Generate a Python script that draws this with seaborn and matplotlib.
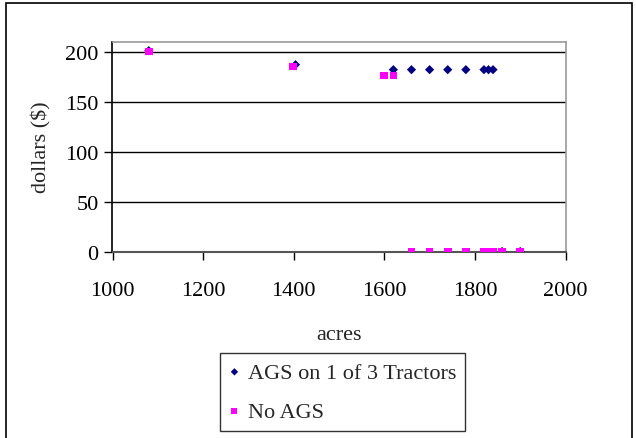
import matplotlib
matplotlib.use("Agg")
import matplotlib.pyplot as plt
import seaborn as sns
import pandas as pd
from matplotlib.patches import Rectangle

ags_acres = [1080, 1404, 1620, 1660, 1700, 1740, 1780, 1820, 1830, 1840, 1860, 1900]
ags_dollars = [201, 187, 182, 182, 182, 182, 182, 182, 182, 182, 0, 0]
noags_acres = [1080, 1398, 1600, 1620, 1660, 1700, 1740, 1780, 1820, 1830, 1840, 1860, 1900]
noags_dollars = [200, 185, 176, 176, 0, 0, 0, 0, 0, 0, 0, 0, 0]
series_names = ["AGS on 1 of 3 Tractors", "No AGS"]
x_ticks = [1000, 1200, 1400, 1600, 1800, 2000]
y_ticks = [0, 50, 100, 150, 200]

sns.set_style("white")
plt.rcParams['font.family'] = ['Liberation Serif', 'DejaVu Serif']

df = pd.concat([
    pd.DataFrame({"acres": ags_acres, "dollars": ags_dollars, "series": series_names[0]}),
    pd.DataFrame({"acres": noags_acres, "dollars": noags_dollars, "series": series_names[1]}),
])

fig = plt.figure(figsize=(6.36, 4.39), dpi=100)
ax = fig.add_axes([112.5 / 636, 186.5 / 439, 453 / 636, 209.8 / 439])

for y in y_ticks[1:]:
    ax.axhline(y, color="black", lw=1.0, zorder=1)

sns.scatterplot(data=df[df.series == series_names[0]], x="acres", y="dollars",
                color="#000080", marker="D", s=22, edgecolor="none", ax=ax,
                label=series_names[0], zorder=3)
sns.scatterplot(data=df[df.series == series_names[1]], x="acres", y="dollars",
                color="#FF00FF", marker="s", s=30, edgecolor="none", ax=ax,
                label=series_names[1], zorder=4)

ax.set_xlim(1000, 2000)
ax.set_ylim(0, 210)
ax.set_xticks(x_ticks)
ax.set_yticks(y_ticks)
ax.tick_params(axis="both", labelsize=16, direction="out", length=6, width=1,
               colors="black", bottom=True, left=True)
ax.tick_params(axis="x", pad=15)
ax.tick_params(axis="y", pad=4)
ax.set_xlabel("acres", fontsize=16, labelpad=18)
ax.set_ylabel("dollars ($)", fontsize=16, labelpad=10)

ax.spines["left"].set_color("black")
ax.spines["bottom"].set_color("#555555")
ax.spines["top"].set_color("#9a9a9a")
ax.spines["right"].set_color("#9a9a9a")
for sp in ax.spines.values():
    sp.set_linewidth(1.2)
ax.spines["bottom"].set_linewidth(1.5)

ax.get_legend().remove()
handles, labels = ax.get_legend_handles_labels()
leg = fig.legend(handles, labels, loc="lower left", bbox_to_anchor=(220 / 636, 7 / 439),
                 borderaxespad=0, fontsize=16, frameon=True, fancybox=False,
                 edgecolor="black", labelspacing=0.85, handlelength=0.5,
                 handletextpad=0.35, borderpad=0.4, markerscale=0.8)
leg.get_frame().set_linewidth(1.0)

fig.patches.append(Rectangle((6 / 636, -0.02), 626 / 636, 1.02 - 4 / 439,
                             transform=fig.transFigure, fill=False,
                             edgecolor="black", lw=1.2))

fig.savefig("out.png", dpi=100)
